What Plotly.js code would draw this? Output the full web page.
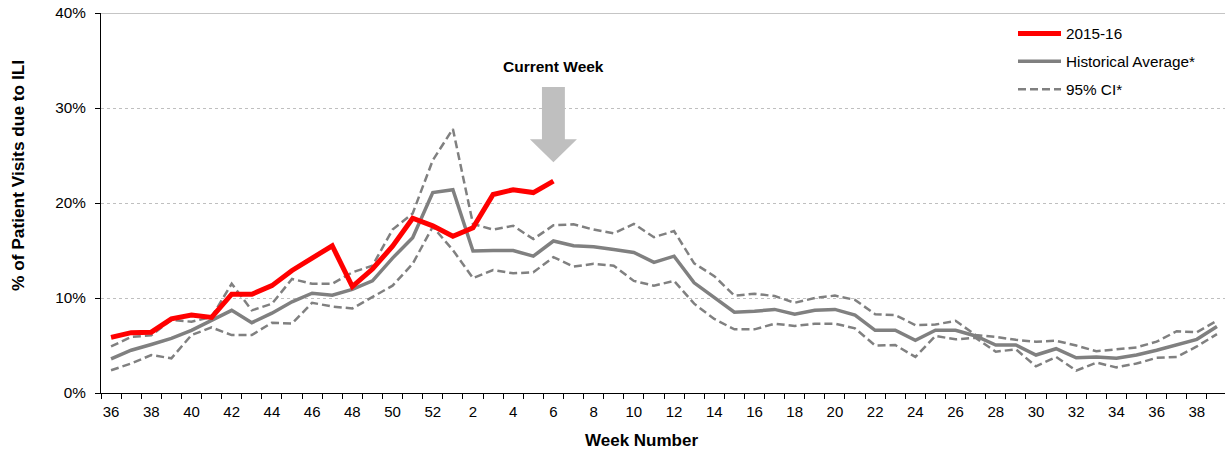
<!DOCTYPE html>
<html>
<head>
<meta charset="utf-8">
<script src="https://cdn.plot.ly/plotly-3.0.1.min.js"></script>
<style>
  html, body { margin: 0; padding: 0; background: #ffffff; }
  #chart { width: 1225px; height: 451px; }
</style>
</head>
<body>
<div id="chart"></div>
<script>
// Surveillance weeks: week 36 of one year through week 39 of the next
const weeks = [36, 37, 38, 39, 40, 41, 42, 43, 44, 45, 46, 47, 48, 49, 50, 51, 52,
  1, 2, 3, 4, 5, 6, 7, 8, 9, 10, 11, 12, 13, 14, 15, 16, 17, 18, 19, 20,
  21, 22, 23, 24, 25, 26, 27, 28, 29, 30, 31, 32, 33, 34, 35, 36, 37, 38, 39];

// % of patient visits due to ILI, current season (through week 6)
const season = [5.85, 6.35, 6.4, 7.8, 8.2, 7.95, 10.4, 10.4, 11.3, 12.9, 14.2, 15.5,
  11.2, 13.05, 15.45, 18.4, 17.6, 16.5, 17.4, 20.9, 21.4, 21.1, 22.3];

// Historical average and its 95% confidence interval
const histAvg = [3.6, 4.5, 5.1, 5.75, 6.6, 7.6, 8.7, 7.4, 8.4, 9.6, 10.5,
  10.3, 10.9, 11.8, 14.2, 16.35, 21.1, 21.4, 14.95, 15.0, 15.0,
  14.4, 16.0, 15.5, 15.4, 15.1, 14.8, 13.75, 14.4, 11.6, 10.0,
  8.5, 8.6, 8.8, 8.3, 8.7, 8.8, 8.2, 6.6, 6.6, 5.55,
  6.6, 6.6, 6.0, 5.05, 5.05, 4.0, 4.66, 3.7, 3.8,
  3.65, 4.0, 4.5, 5.1, 5.65, 7.0];

const ciUpper = [4.9, 5.9, 6.07, 7.7, 7.5, 8.0, 11.5, 8.7, 9.4, 12.0, 11.5,
  11.5, 12.7, 13.4, 17.2, 18.9, 24.5, 27.8, 17.8, 17.2, 17.6,
  16.2, 17.65, 17.75, 17.2, 16.8, 17.8, 16.4, 17.05, 13.65, 12.3,
  10.25, 10.45, 10.2, 9.5, 10.0, 10.25, 9.8, 8.3, 8.2, 7.15,
  7.2, 7.6, 6.1, 5.9, 5.6, 5.4, 5.5, 5.0, 4.4,
  4.6, 4.8, 5.4, 6.5, 6.4, 7.6];

const ciLower = [2.4, 3.1, 4.0, 3.65, 6.1, 6.9, 6.1, 6.1, 7.4, 7.3, 9.5,
  9.1, 8.9, 10.1, 11.3, 13.6, 17.5, 15.05, 12.1, 12.95, 12.6,
  12.7, 14.3, 13.3, 13.6, 13.4, 11.8, 11.3, 11.8, 9.4, 7.8,
  6.7, 6.7, 7.3, 7.05, 7.3, 7.3, 6.8, 5.0, 5.05, 3.8,
  6.0, 5.65, 5.8, 4.35, 4.6, 2.8, 3.8, 2.35, 3.2,
  2.7, 3.1, 3.7, 3.8, 4.9, 6.2];

// Weeks repeat (36-39 appear twice), so plot on a positional index
const idx = weeks.map((w, i) => i);
const labelIdx = idx.filter(i => weeks[i] % 2 === 0);
const labelText = labelIdx.map(i => String(weeks[i]));

const FONT = 'Arial, "Liberation Sans", Helvetica, sans-serif';
const GREY = '#808080';

const traces = [
  {
    x: idx, y: ciUpper, name: '95% CI*', legendgroup: 'ci', legendrank: 3,
    mode: 'lines', line: { color: GREY, width: 2.5, dash: '8px,4px' },
    hoverinfo: 'skip'
  },
  {
    x: idx, y: ciLower, name: '95% CI*', legendgroup: 'ci', showlegend: false,
    mode: 'lines', line: { color: GREY, width: 2.5, dash: '8px,4px' },
    hoverinfo: 'skip'
  },
  {
    x: idx, y: histAvg, name: 'Historical Average*', legendgroup: 'avg', legendrank: 2,
    mode: 'lines', line: { color: GREY, width: 3.5 },
    hoverinfo: 'skip'
  },
  {
    x: idx.slice(0, season.length), y: season, name: '2015-16', legendgroup: 'cur', legendrank: 1,
    mode: 'lines', line: { color: '#FF0000', width: 5 },
    hoverinfo: 'skip'
  }
];

// Down arrow marking the most recent reported week
const cw = season.length - 1;
const arrowPath = [
  'M', cw - 0.57, 32.2, 'L', cw + 0.57, 32.2, 'L', cw + 0.57, 26.7,
  'L', cw + 1.17, 26.7, 'L', cw, 24.3, 'L', cw - 1.17, 26.7,
  'L', cw - 0.57, 26.7, 'Z'
].join(' ');

const layout = {
  width: 1225,
  height: 451,
  margin: { l: 101, r: 0, t: 13, b: 58 },
  paper_bgcolor: '#ffffff',
  plot_bgcolor: '#ffffff',
  font: { family: FONT, size: 15, color: '#000000' },
  showlegend: true,
  legend: {
    x: (1013 - 101) / 1124, xanchor: 'left',
    y: 1 - (17 - 13) / 380, yanchor: 'top',
    bgcolor: 'rgba(0,0,0,0)',
    font: { family: FONT, size: 15.3, color: '#000000' },
    tracegroupgap: 5,
    itemwidth: 43,
    traceorder: 'grouped'
  },
  xaxis: {
    range: [-0.5, 55.4],
    tickmode: 'array',
    tickvals: labelIdx,
    ticktext: labelText,
    ticks: 'outside', ticklen: 5, tickcolor: 'rgba(0,0,0,0)',
    minor: { tickmode: 'linear', tick0: -0.5, dtick: 1, ticks: 'outside', ticklen: 5, tickcolor: '#000000', tickwidth: 1, showgrid: false },
    showline: true, linecolor: '#000000', linewidth: 1,
    showgrid: false, zeroline: false,
    tickfont: { family: FONT, size: 15, color: '#000000' },
    fixedrange: true
  },
  yaxis: {
    range: [0, 40],
    tickmode: 'linear', tick0: 0, dtick: 10,
    ticksuffix: '%',
    ticks: 'outside', ticklen: 5, tickcolor: '#000000', tickwidth: 1,
    ticklabelstandoff: 6,
    showline: true, linecolor: '#000000', linewidth: 1,
    showgrid: true, gridcolor: '#BFBFBF', griddash: 'dot', gridwidth: 1,
    zeroline: false,
    tickfont: { family: FONT, size: 15.3, color: '#000000' },
    fixedrange: true
  },
  shapes: [
    {
      type: 'line', xref: 'paper', yref: 'y', x0: 0, x1: 1, y0: 40, y1: 40,
      line: { color: '#8C8C8C', width: 1 }, layer: 'below'
    },
    {
      type: 'path', xref: 'x', yref: 'y', path: arrowPath,
      fillcolor: '#BFBFBF', line: { width: 0 }, layer: 'above'
    }
  ],
  annotations: [
    {
      text: '<b>Current Week</b>', xref: 'x', yref: 'y', x: cw, y: 34.35,
      showarrow: false, xanchor: 'center', yanchor: 'middle',
      font: { family: FONT, size: 15.5, color: '#000000' }
    },
    {
      text: '<b>Week Number</b>', xref: 'paper', yref: 'paper',
      x: (641 - 101) / 1124, y: (393 - 451) / 380,
      showarrow: false, xanchor: 'center', yanchor: 'bottom', borderpad: 0,
      font: { family: FONT, size: 17, color: '#000000' }
    },
    {
      text: '<b>% of Patient Visits due to ILI</b>', xref: 'paper', yref: 'paper',
      x: (18 - 101) / 1124, y: (393 - 176) / 380, textangle: -90,
      showarrow: false, xanchor: 'center', yanchor: 'middle',
      font: { family: FONT, size: 17.3, color: '#000000' }
    }
  ]
};

Plotly.newPlot('chart', traces, layout, { displayModeBar: false, staticPlot: true });
</script>
</body>
</html>
